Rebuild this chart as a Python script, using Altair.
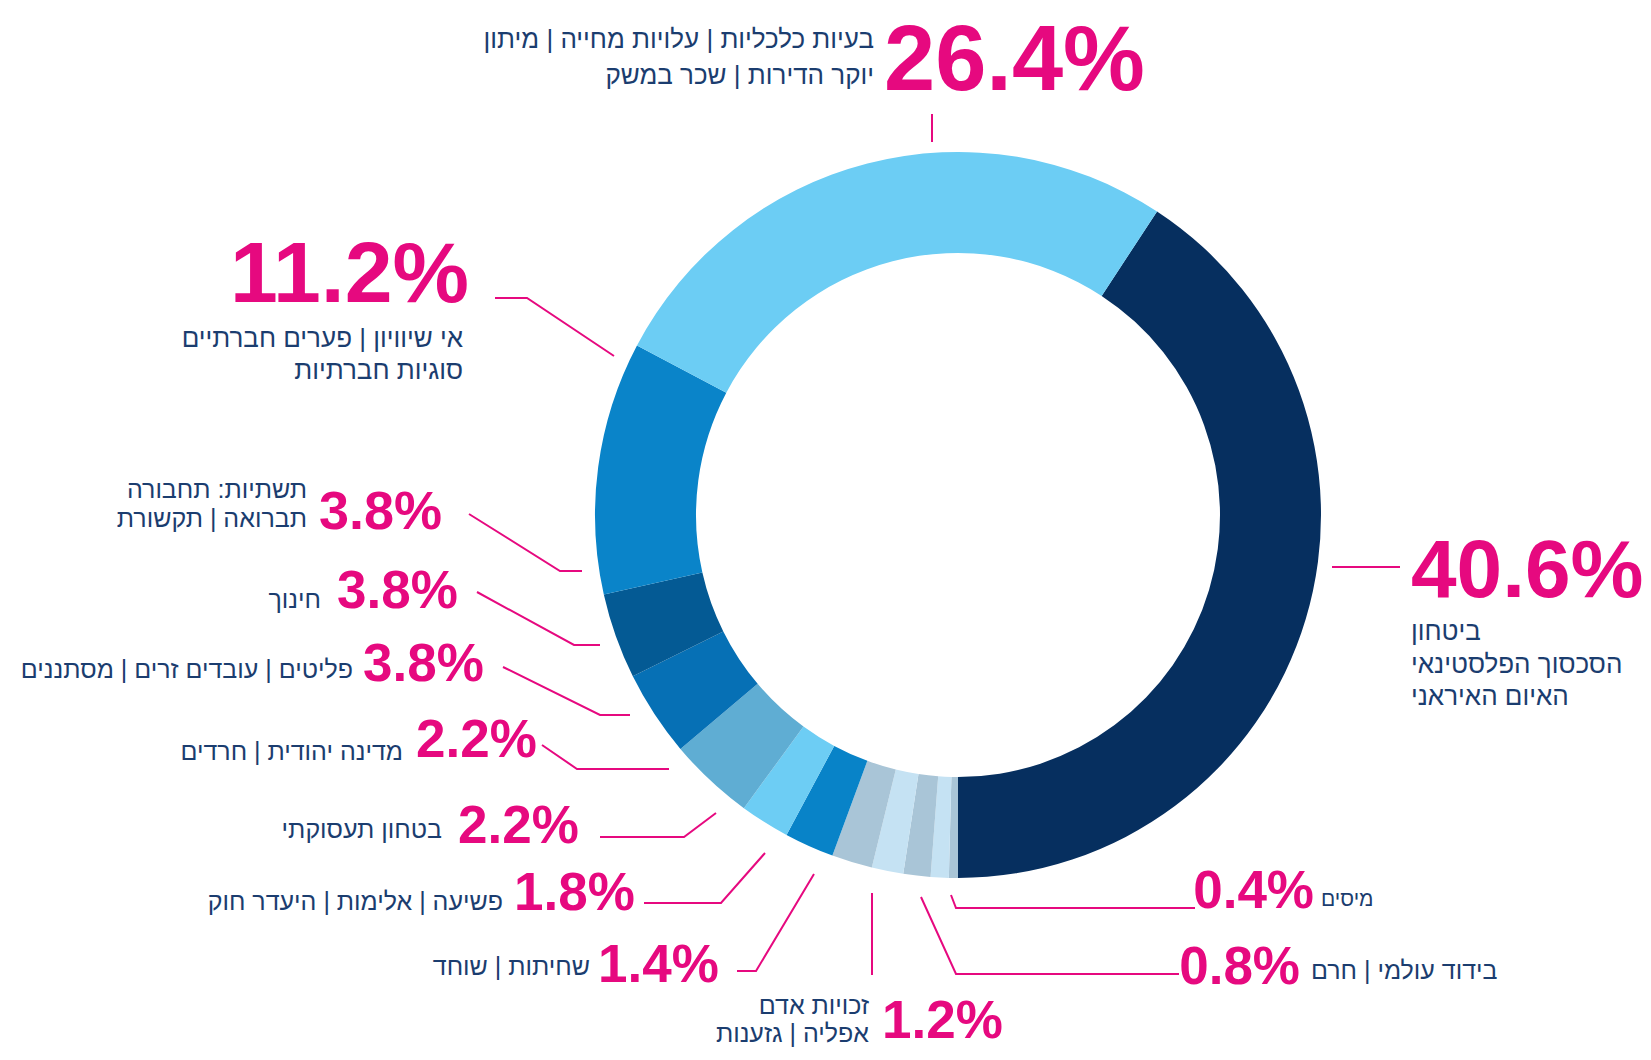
import math
import altair as alt
import pandas as pd

# ---------------- data ----------------
cats = [
    "ביטחון", "מיסים", "בידוד עולמי", "זכויות אדם", "שחיתות", "פשיעה",
    "בטחון תעסוקתי", "מדינה יהודית", "פליטים", "חינוך", "תשתיות",
    "אי שיוויון", "בעיות כלכליות",
]
values = [40.6, 0.4, 0.8, 1.2, 1.4, 1.8, 2.2, 2.2, 3.8, 3.8, 3.8, 11.2, 26.4]
colors = [
    "#062f5f", "#a9c5d7", "#c5e2f3", "#a9c5d7", "#c5e2f3", "#a9c5d7",
    "#0883c8", "#6dcdf4", "#5fadd3", "#0670b5", "#045a94", "#0a84c9", "#6ccdf4",
]
pct_labels = ["40.6%", "0.4%", "0.8%", "1.2%", "1.4%", "1.8%", "2.2%", "2.2%",
              "3.8%", "3.8%", "3.8%", "11.2%", "26.4%"]
desc_lines = [
    ["ביטחון", "הסכסוך הפלסטינאי", "האיום האיראני"],
    ["מיסים"],
    ["בידוד עולמי | חרם"],
    ["זכויות אדם", "אפליה | גזענות"],
    ["שחיתות | שוחד"],
    ["פשיעה | אלימות | היעדר חוק"],
    ["בטחון תעסוקתי"],
    ["מדינה יהודית | חרדים"],
    ["פליטים | עובדים זרים | מסתננים"],
    ["חינוך"],
    ["תשתיות: תחבורה", "תברואה | תקשורת"],
    ["אי שיוויון | פערים חברתיים", "סוגיות חברתיות"],
    ["בעיות כלכליות | עלויות מחייה | מיתון", "יוקר הדירות | שכר במשק"],
]

# ---------------- layout (page pixels) ----------------
W, H = 1635, 1044
OFF = 8
CX, CY = 958, 515
R_OUT, R_IN = 363, 262
MAGENTA = "#e6097f"
NAVY = "#1b3d6f"
FONT = "Liberation Sans Narrow, Liberation Sans, DejaVu Sans Condensed, sans-serif"

# percent label anchor: (x, baseline y, align, font size)
pct_pos = [
    (1411, 597, "left", 82),
    (1314, 908, "right", 53),
    (1300, 984, "right", 53),
    (882, 1038, "left", 53),
    (598, 982, "left", 53),
    (514, 910, "left", 53),
    (458, 843, "left", 53),
    (416, 757, "left", 53),
    (363, 681, "left", 53),
    (337, 608, "left", 53),
    (319, 529, "left", 54),
    (469, 302, "right", 86),
    (884, 90, "left", 92),
]
# description anchor: (x, first line y, line step, align, size)
desc_pos = [
    (1411, 632, 32.5, "left", 26),
    (1321, 900, 0, "left", 21),
    (1311, 971, 0, "left", 25),
    (869, 1006, 28, "right", 25),
    (590, 967, 0, "right", 25),
    (503, 902, 0, "right", 25),
    (442, 830, 0, "right", 25),
    (403, 752, 0, "right", 25),
    (353, 670, 0, "right", 25),
    (321, 600, 0, "right", 25),
    (307, 490, 29, "right", 25),
    (463, 339, 32, "right", 26),
    (874, 40, 36, "right", 26),
]
leaders = [
    [(1332, 567), (1400, 567)],
    [(951, 895), (956, 908), (1195, 908)],
    [(921, 897), (956, 974), (1179, 974)],
    [(872, 893), (872, 975)],
    [(814, 874), (756, 971), (737, 971)],
    [(765, 853), (721, 903), (644, 903)],
    [(716, 813), (684, 837), (600, 837)],
    [(669, 769), (577, 769), (542, 745)],
    [(630, 715), (600, 715), (503, 667)],
    [(600, 645), (574, 645), (477, 592)],
    [(582, 571), (560, 571), (469, 514)],
    [(614, 356), (527, 298), (495, 298)],
    [(932, 142), (932, 114)],
]

# ---------------- tables ----------------
total = sum(values)
start = math.radians(180 - values[0] / total * 360)

arc_df = pd.DataFrame({"cat": cats, "value": values, "idx": list(range(len(cats)))})

pct_rows, desc_rows, line_rows = [], [], []
for i, c in enumerate(cats):
    px, py, pal, ps = pct_pos[i]
    pct_rows.append({"x": px - OFF, "y": py - OFF, "t": pct_labels[i], "align": pal, "s": ps})
    dx, dy, step, dal, ds = desc_pos[i]
    for k, line in enumerate(desc_lines[i]):
        desc_rows.append({"x": dx - OFF, "y": dy + k * step - OFF, "t": line, "align": dal, "s": ds})
    for k, (lx, ly) in enumerate(leaders[i]):
        line_rows.append({"x": lx - OFF, "y": ly - OFF, "g": i, "o": k})

pct_df = pd.DataFrame(pct_rows)
desc_df = pd.DataFrame(desc_rows)
line_df = pd.DataFrame(line_rows)

xs = alt.Scale(domain=[0, W], range=[0, W], nice=False, zero=False)
ys = alt.Scale(domain=[0, H], range=[0, H], nice=False, zero=False)

arcs = alt.Chart(arc_df).mark_arc(
    innerRadius=R_IN, outerRadius=R_OUT, stroke=None
).encode(
    theta=alt.Theta("value:Q", stack=True,
                    scale=alt.Scale(range=[start, start + 2 * math.pi])),
    order=alt.Order("idx:Q"),
    color=alt.Color("cat:N", scale=alt.Scale(domain=cats, range=colors), legend=None),
    x=alt.value(CX - OFF),
    y=alt.value(CY - OFF),
)

lines = alt.Chart(line_df).mark_line(color=MAGENTA, strokeWidth=2).encode(
    x=alt.X("x:Q", scale=xs, axis=None),
    y=alt.Y("y:Q", scale=ys, axis=None),
    detail="g:N",
    order="o:Q",
)


def text_layer(df, align, color, weight, baseline):
    sub = df[df["align"] == align]
    return alt.Chart(sub).mark_text(
        align=align, baseline=baseline, color=color, font=FONT, fontWeight=weight
    ).encode(
        x=alt.X("x:Q", scale=xs, axis=None),
        y=alt.Y("y:Q", scale=ys, axis=None),
        text="t:N",
        size=alt.Size("s:Q", scale=None, legend=None),
    )


layers = [arcs, lines]
for al in ["left", "right"]:
    layers.append(text_layer(pct_df, al, MAGENTA, "bold", "alphabetic"))
    layers.append(text_layer(desc_df, al, NAVY, "normal", "middle"))

chart = alt.layer(*layers).properties(
    width=W, height=H, autosize=alt.AutoSizeParams(type="none"), padding=0
).configure_view(stroke=None)

chart.save("out.html", embed_options={"renderer": "svg", "actions": False})
